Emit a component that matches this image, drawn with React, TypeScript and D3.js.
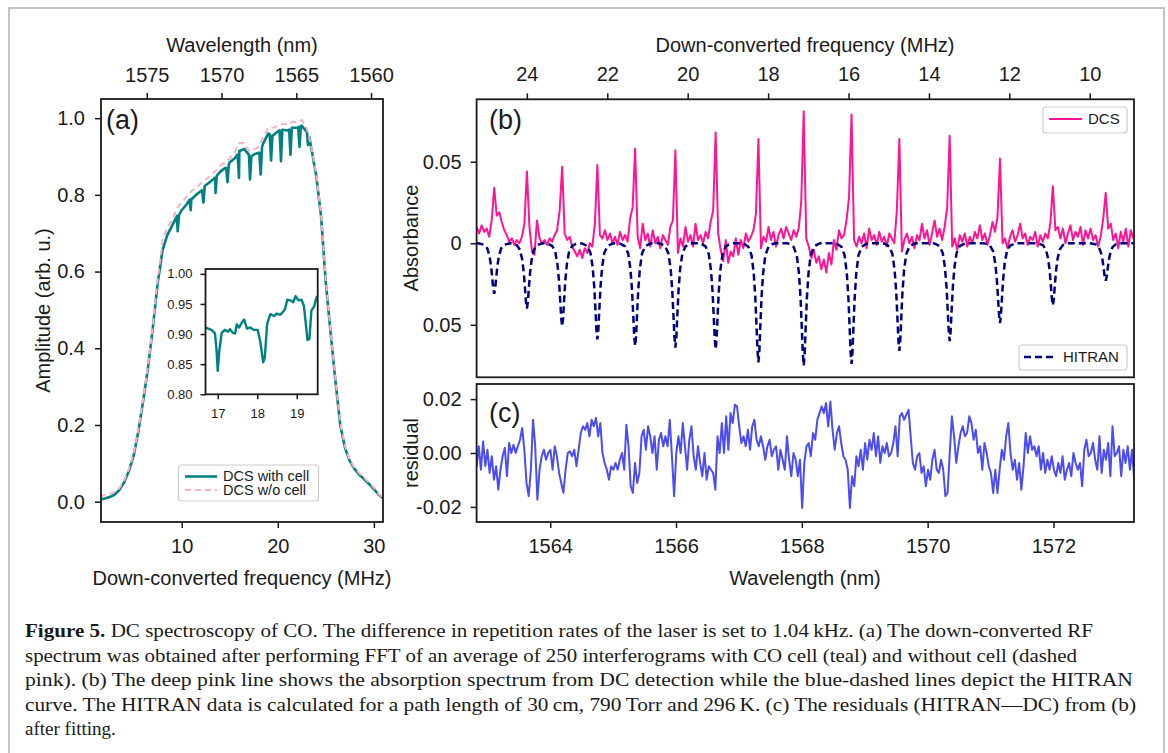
import React, { useRef, useEffect } from 'react'
import * as d3 from 'd3'

const SANS = '"Liberation Sans", Arial, Helvetica, sans-serif'
const SERIF = '"Liberation Serif", "Times New Roman", serif'
const INK = '#1a1a1a'

// ---- panel (a): amplitude vs down-converted frequency, 0.5 MHz grid from 1.5 MHz ----
const ampStart = 1.5
const ampStep = 0.5
const ampNoCell = [
  0.012, 0.018, 0.02, 0.025, 0.035, 0.055, 0.085, 0.125, 0.19, 0.27,
  0.355, 0.46, 0.58, 0.68, 0.715, 0.735, 0.765, 0.78, 0.795, 0.81,
  0.818, 0.83, 0.84, 0.85, 0.862, 0.875, 0.885, 0.895, 0.91, 0.935,
  0.935, 0.915, 0.918, 0.925, 0.95, 0.975, 0.975, 0.98, 0.985, 0.983,
  0.99, 0.99, 0.995, 0.975, 0.925, 0.855, 0.75, 0.575, 0.445, 0.32,
  0.205, 0.145, 0.107, 0.088, 0.074, 0.062, 0.05, 0.037, 0.02, 0.008,
]
const ampWithCell = [
  0.005, 0.008, 0.012, 0.018, 0.03, 0.05, 0.08, 0.12, 0.185, 0.265,
  0.35, 0.455, 0.57, 0.655, 0.695, 0.72, 0.745, 0.76, 0.775, 0.79,
  0.8, 0.81, 0.825, 0.835, 0.845, 0.86, 0.87, 0.885, 0.895, 0.915,
  0.92, 0.905, 0.905, 0.91, 0.935, 0.96, 0.955, 0.965, 0.97, 0.968,
  0.975, 0.975, 0.98, 0.965, 0.92, 0.85, 0.745, 0.57, 0.44, 0.315,
  0.2, 0.14, 0.105, 0.085, 0.07, 0.058, 0.046, 0.033, 0.018, 0.008,
]
// CO absorption dips on the teal curve: [MHz, amplitude]
const cellDips: [number, number][] = [
  [9.45, 0.742], [9.58, 0.705], [9.72, 0.748],
  [10.8, 0.787], [10.94, 0.76], [11.08, 0.79],
  [12.12, 0.812], [12.26, 0.78], [12.4, 0.823],
  [13.38, 0.843], [13.52, 0.805], [13.66, 0.85],
  [14.63, 0.87], [14.77, 0.833], [14.91, 0.88],
  [15.82, 0.905], [15.96, 0.845], [16.1, 0.915],
  [16.97, 0.905], [17.11, 0.84], [17.25, 0.9],
  [18.08, 0.91], [18.22, 0.853], [18.36, 0.925],
  [19.16, 0.958], [19.3, 0.89], [19.44, 0.955],
  [20.19, 0.968], [20.33, 0.888], [20.47, 0.97],
  [21.18, 0.97], [21.32, 0.905], [21.46, 0.975],
  [22.12, 0.977], [22.26, 0.925], [22.4, 0.98],
  [23.01, 0.97], [23.15, 0.93], [23.29, 0.95],
]
// inset zoom 16.7 - 19.5 MHz
const insetFreq = [
  16.68, 16.84, 16.93, 16.97, 17.0, 17.04, 17.1, 17.18, 17.26, 17.31,
  17.38, 17.44, 17.48, 17.54, 17.61, 17.67, 17.74, 17.82, 17.91, 18.01,
  18.08, 18.15, 18.19, 18.25, 18.33, 18.43, 18.49, 18.58, 18.64, 18.7,
  18.76, 18.84, 18.91, 18.97, 19.04, 19.12, 19.18, 19.23, 19.27, 19.32,
  19.37, 19.44, 19.5, 19.55,
]
const insetAmp = [
  0.911, 0.907, 0.901, 0.873, 0.839, 0.873, 0.902, 0.907, 0.904, 0.908,
  0.902, 0.901, 0.916, 0.911, 0.919, 0.924, 0.909, 0.911, 0.907, 0.907,
  0.886, 0.853, 0.861, 0.917, 0.933, 0.93, 0.934, 0.932, 0.936, 0.941,
  0.957, 0.956, 0.953, 0.963, 0.956, 0.957, 0.947, 0.917, 0.89, 0.892,
  0.939, 0.946, 0.961, 0.964,
]

// ---- panel (b): absorbance (x1e-3) on a 0.04 nm grid starting at 1562.83 nm ----
const dcsStart = 1562.83
const dcsStep = 0.04
const dcsMilli = [
  10, 6, 11, 7, 9, 4, 14, 34, 17, 19, 13, 8, 5, 1, 3, -1, 2, 0, 4, 12,
  44, 10, -5, -7, 14, 3, 0, 2, -1, 3, 1, 5, 8, 20, 47, 6, 2, 4, -2, -5,
  -8, -4, -9, -3, -6, 0, -2, 12, 48, 5, 3, 8, 2, 6, 0, 4, -1, 7, 2, 5,
  1, 15, 22, 58, 4, -3, 12, 2, 6, -2, 8, 0, 4, -3, 5, 2, -1, 10, 14, 57,
  -6, 3, -2, 10, 1, 5, -2, 12, 2, 5, 0, 7, 3, 13, 20, 68, 6, -4, -11, 2,
  -12, -5, -8, 3, -7, 2, -3, 6, 1, 4, 8, 18, 64, -3, 4, 1, 10, 2, 7, -2,
  5, 9, 3, 10, 6, 2, 8, 4, 9, 25, 81, 3, -2, -9, -4, -12, -8, -16, -10, -18,
  -6, -13, 2, -4, 8, 3, 5, 14, 28, 79, 2, -2, 4, 0, 6, -3, 9, 2, 5, -1,
  7, 1, 4, -2, 6, 3, 0, 20, 64, -5, 2, 6, 0, 4, -3, 5, 2, 12, 3, 8,
  -1, 6, 14, 4, 9, 2, 10, 22, 66, -2, 3, -4, 5, 1, 6, -2, 4, 0, 7, 3,
  11, 2, 6, -1, 5, 13, 7, 16, 52, 0, 3, -3, 4, 8, 1, 5, 12, 3, 6, -1,
  4, 2, 7, -2, 5, 1, 6, 3, 12, 35, 8, 10, 3, 9, 0, 6, 11, 2, 7, 4,
  10, -1, 8, 3, 9, 2, 5, -2, 4, 15, 31, 9, 12, 2, 6, -3, 7, 1, 9, -2,
  8, 3,
]
// HITRAN lines: centre wavelength (nm) and depth (x1e-3)
const lineCenters = [
  1563.11, 1563.63, 1564.19, 1564.75, 1565.35, 1565.99, 1566.63, 1567.31,
  1568.03, 1568.79, 1569.55, 1570.35, 1571.15, 1571.99, 1572.83,
]
const hitranDepthMilli = [-31, -40, -51, -59, -63, -64, -65, -73, -75, -74, -66, -60, -49, -38, -23]
// dip profile: offset (nm) and fraction of depth
const dipOffset = [-0.26, -0.22, -0.16, -0.11, -0.075, -0.05, -0.03, -0.015, 0, 0.015, 0.03, 0.05, 0.075, 0.11, 0.16, 0.22, 0.26]
const dipShape = [0, 0.008, 0.03, 0.1, 0.25, 0.45, 0.7, 0.9, 1, 0.9, 0.7, 0.45, 0.25, 0.1, 0.03, 0.008, 0]

// ---- panel (c): residual (x1e-3), 0.0345 nm grid ----
const resStart = 1562.83
const resStep = 0.0345
const residualMilli = [
  -4.9, 2.5, -6.2, 4.3, -4.9, 1.2, -7.4, -1.2, -9.9, -4.9, -13.6, -6.2, -1.2, 1.9, -8.6, 3.7, 0, 3.1, 0, 2.5,
  4.9, 9.3, 1.2, -11.1, -16.0, -6.2, 12.3, 2.5, -17.3, -6.2, -1.2, 1.2, -2.5, 0, 1.2, -6.2, 2.5, -1.2, -7.4, -11.1,
  -14.8, -6.2, 0, 0.6, -1.2, 1.2, -4.9, 1.2, 7.4, 9.9, 8.6, 11.1, 6.2, 12.3, 9.9, 13.0, 6.2, 11.1, 0, -3.7,
  -6.2, -9.9, -4.9, -6.2, -3.7, -6.2, -2.5, 0, -6.2, 10.5, 2.5, -12.3, -14.8, -3.7, -11.1, -7.4, 6.2, 8.6, 1.2, 9.9,
  6.2, 0, 6.2, -6.2, 4.9, 7.4, 2.5, 6.2, 2.5, 12.3, -1.2, -16.0, 0, 6.2, 0, 11.1, 2.5, -6.2, 4.9, 9.9,
  -1.2, -6.2, 2.5, -3.7, -8.6, 0, -9.9, -4.9, -6.2, -7.4, -13.6, 6.2, 0, 11.1, 0, 13.6, 1.2, 14.8, 11.1, 17.9,
  17.3, 9.9, 3.7, 6.2, 2.5, 8.6, 1.2, 9.9, 12.3, 4.9, 2.5, 6.2, 2.5, -2.5, 2.5, 4.9, -1.2, 1.2, 2.5, -6.2,
  1.2, -2.5, -6.2, 6.2, -2.5, -8.6, 0, -2.5, -8.6, -2.5, -20.4, -3.7, 2.5, 3.7, -1.2, 7.4, 4.9, 12.3, 14.8, 17.3,
  14.8, 18.5, 9.9, 19.1, 8.6, 1.2, 7.4, 9.9, 3.7, -1.2, -2.5, -6.2, -20.4, -8.6, -12.3, -1.2, -4.9, 1.2, -6.2, 3.7,
  -2.5, 4.9, 1.2, 7.4, -1.2, 6.2, -3.7, 2.5, 0, 3.7, -1.2, 0, 3.7, 9.9, -1.2, 13.6, 14.8, 12.3, 14.2, 16.0,
  6.2, -3.7, -6.2, -1.2, 0, -7.4, -4.9, -12.3, -6.2, -9.9, -2.5, 1.2, -6.2, -7.4, -2.5, -6.2, -16.0, -14.8, 0, 13.6,
  6.2, -3.7, 2.5, 7.4, 9.9, 6.2, 7.4, 13.6, 11.1, 4.9, 8.6, 0, 2.5, -6.2, 3.7, 0, -4.9, -7.4, -14.8, -6.2,
  -14.8, -6.2, 1.2, -2.5, 6.2, 11.1, 0, -6.2, -2.5, -9.9, -3.7, -13.6, -4.9, 7.4, 0, 6.2, 1.2, 2.5, -1.2, 2.5,
  -6.2, 0, -7.4, -2.5, -6.2, -1.2, -6.2, -8.6, -3.7, -7.4, -1.2, -9.9, -6.2, -3.7, -8.6, 0, -3.7, -6.2, -3.7, -12.3,
  1.2, 4.9, -1.2, 0, 3.7, -2.5, -6.2, 6.2, -7.4, 1.2, -2.5, 3.7, -8.6, 9.9, -1.2, 0, 2.5, -8.6, 1.2, -3.7,
  2.5, -6.2, 1.2, -9.9,
]

// ---- ticks ----
const ampYTicks = [0, 0.2, 0.4, 0.6, 0.8, 1.0]
const ampXTicks = [10, 20, 30]
const ampTopTicks = [1575, 1570, 1565, 1560]
const insetYTicks = [0.8, 0.85, 0.9, 0.95, 1.0]
const insetXTicks = [17, 18, 19]
const absYTicks = [-0.05, 0, 0.05]
const freqTopTicks = [24, 22, 20, 18, 16, 14, 12, 10]
const resYTicks = [-0.02, 0, 0.02]
const wlTicks = [1564, 1566, 1568, 1570, 1572]

const captionLines = [
  ' DC spectroscopy of CO. The difference in repetition rates of the laser is set to 1.04\u2009kHz. (a) The down-converted RF',
  'spectrum was obtained after performing FFT of an average of 250 interferograms with CO cell (teal) and without cell (dashed',
  'pink). (b) The deep pink line shows the absorption spectrum from DC detection while the blue-dashed lines depict the HITRAN',
  'curve. The HITRAN data is calculated for a path length of 30\u2009cm, 790\u2009Torr and 296\u2009K. (c) The residuals (HITRAN\u2014DC) from (b)',
  'after fitting.',
]
const captionWidths = [1068, 1052, 1108, 1111, 0]

const App = () => {
  const svgRef = useRef<SVGSVGElement>(null)

  useEffect(() => {
    document.body.style.margin = '0'
    const svg = d3.select(svgRef.current)
    svg.selectAll('*').remove()
    const defs = svg.append('defs')

    const clip = (id: string, x0: number, y0: number, x1: number, y1: number) => {
      defs.append('clipPath').attr('id', id)
        .append('rect').attr('x', x0).attr('y', y0).attr('width', x1 - x0).attr('height', y1 - y0)
    }
    const styleAxis = (g: any, size: number) => {
      g.attr('font-size', size).attr('font-family', SANS).attr('color', INK)
      g.select('.domain').remove()
      g.selectAll('.tick line').attr('stroke-width', 1.5)
    }
    const box = (x0: number, y0: number, x1: number, y1: number) => {
      svg.append('rect').attr('x', x0).attr('y', y0).attr('width', x1 - x0).attr('height', y1 - y0)
        .attr('fill', 'none').attr('stroke', INK).attr('stroke-width', 1.8)
    }
    const label = (txt: string, x: number, y: number, size: number, rotate = false, anchor = 'middle') => {
      const t = svg.append('text').attr('font-family', SANS).attr('font-size', size).attr('fill', INK)
        .attr('text-anchor', anchor).attr('dy', '0.35em').text(txt)
      if (rotate) t.attr('transform', `translate(${x},${y}) rotate(-90)`)
      else t.attr('x', x).attr('y', y)
    }

    // outer figure frame
    svg.append('rect').attr('x', 9).attr('y', 8).attr('width', 1155).attr('height', 800)
      .attr('fill', 'none').attr('stroke', '#b3b3b3').attr('stroke-width', 1.5)

    // ================= panel (a) =================
    const xA = d3.scaleLinear().domain([1.6, 30.95]).range([101, 383])
    const yA = d3.scaleLinear().domain([-0.053, 1.05]).range([522, 99])
    const xTopA = d3.scaleLinear().domain([1578.06, 1559.2]).range([101, 383])
    clip('clipA', 101, 99, 383, 522)

    const gridA = ampNoCell.map((_, i) => ampStart + i * ampStep)
    const noCell: [number, number][] = gridA.map((f, i) => [f, ampNoCell[i]])
    const withCell: [number, number][] = gridA.map((f, i) => [f, ampWithCell[i]] as [number, number])
      .concat(cellDips).sort((a, b) => a[0] - b[0])
    const lineA = d3.line<[number, number]>().x(d => xA(d[0])).y(d => yA(d[1]))

    const plotA = svg.append('g').attr('clip-path', 'url(#clipA)')
    plotA.append('path').attr('d', lineA(withCell)).attr('fill', 'none')
      .attr('stroke', '#008080').attr('stroke-width', 2.6).attr('stroke-linejoin', 'round')
    plotA.append('path').attr('d', lineA(noCell)).attr('fill', 'none')
      .attr('stroke', '#f5b3c3').attr('stroke-width', 2).attr('stroke-dasharray', '6,4')

    const axA1 = svg.append('g').attr('transform', 'translate(0,522)')
      .call(d3.axisBottom(xA).tickValues(ampXTicks).tickSize(6).tickPadding(11).tickSizeOuter(0))
    styleAxis(axA1, 20)
    const axA2 = svg.append('g').attr('transform', 'translate(101,0)')
      .call(d3.axisLeft(yA).tickValues(ampYTicks).tickFormat(d3.format('.1f')).tickSize(6).tickPadding(10).tickSizeOuter(0))
    styleAxis(axA2, 20)
    const axA3 = svg.append('g').attr('transform', 'translate(0,99)')
      .call(d3.axisTop(xTopA).tickValues(ampTopTicks).tickFormat(d3.format('d')).tickSize(6).tickPadding(11).tickSizeOuter(0))
    styleAxis(axA3, 20)
    box(101, 99, 383, 522)
    label('Wavelength (nm)', 242, 45, 20)
    label('Down-converted frequency (MHz)', 242, 578, 20)
    label('Amplitude (arb. u.)', 43, 310.5, 20, true)
    svg.append('text').attr('x', 106).attr('y', 128.5).attr('font-family', SANS).attr('font-size', 27)
      .attr('fill', INK).text('(a)')

    // legend (a)
    svg.append('rect').attr('x', 178.5).attr('y', 465).attr('width', 140).attr('height', 36).attr('rx', 3)
      .attr('fill', '#fff').attr('fill-opacity', 0.85).attr('stroke', '#cccccc').attr('stroke-width', 1.2)
    svg.append('line').attr('x1', 185).attr('x2', 217).attr('y1', 476.5).attr('y2', 476.5)
      .attr('stroke', '#008080').attr('stroke-width', 2.6)
    svg.append('line').attr('x1', 185).attr('x2', 217).attr('y1', 490).attr('y2', 490)
      .attr('stroke', '#f5b3c3').attr('stroke-width', 2).attr('stroke-dasharray', '6,4')
    label('DCS with cell', 223, 476, 14.5, false, 'start')
    label('DCS w/o cell', 223, 490, 14.5, false, 'start')

    // inset
    const xI = d3.scaleLinear().domain([16.69, 19.53]).range([205.5, 317.7])
    const yI = d3.scaleLinear().domain([0.8, 1.008]).range([394.3, 269])
    clip('clipI', 205.5, 269, 317.7, 394.3)
    svg.append('rect').attr('x', 205.5).attr('y', 269).attr('width', 112.2).attr('height', 125.3).attr('fill', '#fff')
    const lineI = d3.line<number>().x((_, i) => xI(insetFreq[i])).y(d => yI(d))
    svg.append('g').attr('clip-path', 'url(#clipI)').append('path').attr('d', lineI(insetAmp))
      .attr('fill', 'none').attr('stroke', '#008080').attr('stroke-width', 2.4).attr('stroke-linejoin', 'round')
    const axI1 = svg.append('g').attr('transform', 'translate(0,394.3)')
      .call(d3.axisBottom(xI).tickValues(insetXTicks).tickFormat(d3.format('d')).tickSize(5).tickPadding(9).tickSizeOuter(0))
    styleAxis(axI1, 13)
    const axI2 = svg.append('g').attr('transform', 'translate(205.5,0)')
      .call(d3.axisLeft(yI).tickValues(insetYTicks).tickFormat(d3.format('.2f')).tickSize(5).tickPadding(8).tickSizeOuter(0))
    styleAxis(axI2, 13)
    box(205.5, 269, 317.7, 394.3)

    // ================= panel (b) =================
    const xB = d3.scaleLinear().domain([1562.83, 1573.28]).range([476.6, 1134])
    const xTopB = d3.scaleLinear().domain([25.25, 8.9]).range([476.6, 1134])
    const yB = d3.scaleLinear().domain([-0.0822, 0.0883]).range([377.3, 99.3])
    clip('clipB', 476.6, 99.3, 1134, 377.3)

    const dcsPts: [number, number][] = dcsMilli.map((v, i) => [dcsStart + i * dcsStep, v / 1000])
    const hitranPts: [number, number][] = [[xB.domain()[0], 0]]
    lineCenters.forEach((c, k) => {
      dipOffset.forEach((o, j) => hitranPts.push([c + o, (hitranDepthMilli[k] * dipShape[j]) / 1000]))
    })
    hitranPts.push([xB.domain()[1], 0])
    const lineB = d3.line<[number, number]>().x(d => xB(d[0])).y(d => yB(d[1]))

    const plotB = svg.append('g').attr('clip-path', 'url(#clipB)')
    plotB.append('path').attr('d', lineB(dcsPts)).attr('fill', 'none')
      .attr('stroke', '#ff1493').attr('stroke-width', 2).attr('stroke-linejoin', 'round')
    plotB.append('path').attr('d', lineB(hitranPts)).attr('fill', 'none')
      .attr('stroke', '#000080').attr('stroke-width', 2.5).attr('stroke-dasharray', '7,4')

    const axB1 = svg.append('g').attr('transform', 'translate(476.6,0)')
      .call(d3.axisLeft(yB).tickValues(absYTicks)
        .tickFormat((d: any) => (d === 0 ? '0' : Math.abs(d).toFixed(2)))
        .tickSize(6).tickPadding(9).tickSizeOuter(0))
    styleAxis(axB1, 20)
    const axB2 = svg.append('g').attr('transform', 'translate(0,99.3)')
      .call(d3.axisTop(xTopB).tickValues(freqTopTicks).tickSize(6).tickPadding(12).tickSizeOuter(0))
    styleAxis(axB2, 20)
    box(476.6, 99.3, 1134, 377.3)
    label('Down-converted frequency (MHz)', 805, 45, 20)
    label('Absorbance', 411, 238, 20, true)
    svg.append('text').attr('x', 489).attr('y', 128.5).attr('font-family', SANS).attr('font-size', 27)
      .attr('fill', INK).text('(b)')

    // legends (b)
    svg.append('rect').attr('x', 1043).attr('y', 107).attr('width', 84).attr('height', 26).attr('rx', 3)
      .attr('fill', '#fff').attr('fill-opacity', 0.85).attr('stroke', '#cccccc').attr('stroke-width', 1.2)
    svg.append('line').attr('x1', 1049).attr('x2', 1082).attr('y1', 119).attr('y2', 119)
      .attr('stroke', '#ff1493').attr('stroke-width', 2)
    label('DCS', 1088, 119, 15, false, 'start')
    svg.append('rect').attr('x', 1019).attr('y', 345).attr('width', 108).attr('height', 25).attr('rx', 3)
      .attr('fill', '#fff').attr('fill-opacity', 0.85).attr('stroke', '#cccccc').attr('stroke-width', 1.2)
    svg.append('line').attr('x1', 1024).attr('x2', 1056).attr('y1', 357).attr('y2', 357)
      .attr('stroke', '#000080').attr('stroke-width', 2.5).attr('stroke-dasharray', '7,4')
    label('HITRAN', 1063, 357, 15, false, 'start')

    // ================= panel (c) =================
    const yC = d3.scaleLinear().domain([-0.0256, 0.0256]).range([522, 384])
    clip('clipC', 476.6, 384, 1134, 522)
    const resPts: [number, number][] = residualMilli.map((v, i) => [resStart + i * resStep, v / 1000])
    const lineC = d3.line<[number, number]>().x(d => xB(d[0])).y(d => yC(d[1]))
    svg.append('g').attr('clip-path', 'url(#clipC)').append('path').attr('d', lineC(resPts))
      .attr('fill', 'none').attr('stroke', '#4b4cf4').attr('stroke-width', 2).attr('stroke-linejoin', 'round')

    const axC1 = svg.append('g').attr('transform', 'translate(476.6,0)')
      .call(d3.axisLeft(yC).tickValues(resYTicks).tickFormat((d: any) => d.toFixed(2))
        .tickSize(6).tickPadding(9).tickSizeOuter(0))
    styleAxis(axC1, 20)
    const axC2 = svg.append('g').attr('transform', 'translate(0,522)')
      .call(d3.axisBottom(xB).tickValues(wlTicks).tickFormat(d3.format('d')).tickSize(6).tickPadding(11).tickSizeOuter(0))
    styleAxis(axC2, 20)
    box(476.6, 384, 1134, 522)
    label('Wavelength (nm)', 805, 578, 20)
    label('residual', 411, 453, 20, true)
    svg.append('text').attr('x', 489).attr('y', 422).attr('font-family', SANS).attr('font-size', 27)
      .attr('fill', INK).text('(c)')

    // ================= caption =================
    captionLines.forEach((txt, i) => {
      const t = svg.append('text').attr('x', 25).attr('y', 637 + i * 24.5)
        .attr('font-family', SERIF).attr('font-size', 19).attr('fill', INK)
        .style('white-space', 'pre')
      if (captionWidths[i] > 0) t.attr('textLength', captionWidths[i]).attr('lengthAdjust', 'spacingAndGlyphs')
      if (i === 0) t.append('tspan').attr('font-weight', 'bold').text('Figure 5.')
      t.append('tspan').text(txt)
    })
  }, [])

  return (
    <svg ref={svgRef} width={1168} height={753} style={{ display: 'block', background: '#ffffff' }} />
  )
}

export default App
